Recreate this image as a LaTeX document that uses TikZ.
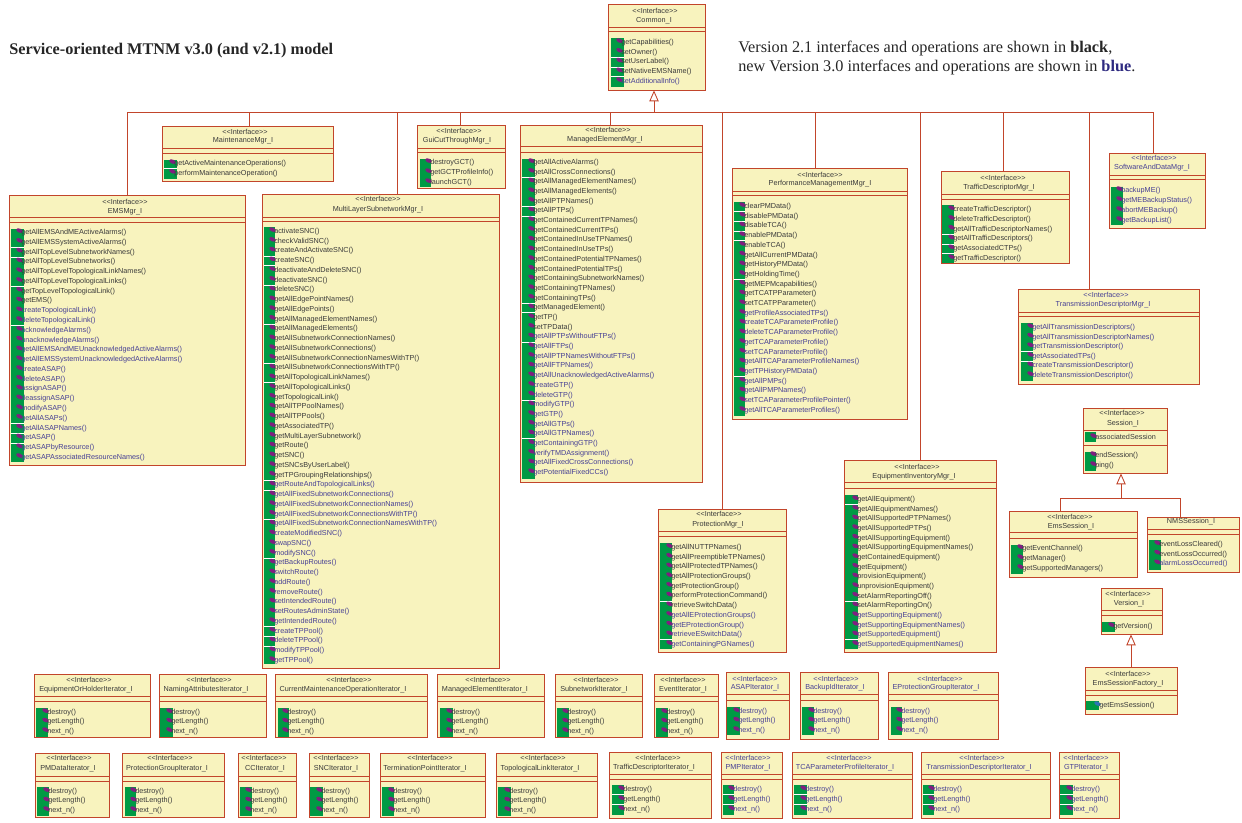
\documentclass[tikz,border=0pt]{standalone}
\usepackage{fontspec}
\setmainfont{Liberation Sans}
\newfontfamily\serifface{Liberation Serif}
\usetikzlibrary{arrows.meta}
\definecolor{linered}{HTML}{C2452B}
\definecolor{boxfill}{HTML}{F8F3BE}
\definecolor{stripgreen}{HTML}{009A44}
\definecolor{iconmag}{HTML}{7F1F7F}
\definecolor{iconblue}{HTML}{2F74B5}
\definecolor{tk}{HTML}{3A3A3A}
\definecolor{tb}{HTML}{463F95}
\definecolor{titleblue}{HTML}{2E2A80}
\tikzset{
  umlbox/.style={draw=linered,fill=boxfill,line width=0.72pt,inner sep=0pt,outer sep=0pt},
  divider/.style={draw=linered,line width=0.6pt},
  conn/.style={draw=linered,line width=0.65pt},
  gen/.style={conn,-{Triangle[open,fill=white,length=8.2pt,width=7pt]}},
  optext/.style={anchor=west,inner sep=0pt,font=\fontsize{5.45pt}{6pt}\selectfont,text height=4pt,text depth=1.2pt},
  headtext/.style={anchor=center,inner sep=0pt,font=\fontsize{5.45pt}{6pt}\selectfont,text height=4pt,text depth=1.2pt},
  titletext/.style={anchor=base west,inner sep=0pt,text=black!85}
}
\newcounter{opn}
\newcommand{\iface}[7]{%
  \node[umlbox,minimum width={(#4-#2)*0.75pt},minimum height={(#5-#3)*0.75pt}] (#1) at ({(#2+#4)/2+0.4},{(#3+#5)/2+0.4}) {};
  \draw[divider] (#2,#6) -- (#4,#6);
  \draw[divider] (#2,#7) -- (#4,#7);
}
\newcommand{\stereo}[3]{\stepcounter{opn}\node[headtext,text=#3] (h\arabic{opn}) at (#1,#2) {<{}<Interface>{}>};}
\newcommand{\ifn}[4]{\stepcounter{opn}\node[headtext,text=#3] (h\arabic{opn}) at (#1,#2) {#4};}
% gx1 gx2 tx gtop gbot y0 step
\newcommand{\strip}[7]{%
  \fill[stripgreen] (#1,#4) rectangle (#2,#5);
  \xdef\gxa{#1}\xdef\gxb{#2}\xdef\optx{#3}\pgfmathsetmacro\tmpy{#6+0.6}\xdef\cury{\tmpy}\xdef\opstep{#7}%
}
\newcommand{\advop}{\pgfmathsetmacro\tmpy{\cury+\opstep}\xdef\cury{\tmpy}}
\newcommand{\icon}[1]{\fill[#1,shift={({\optx-1.5},{\cury-2})},rotate=-25] (0,0) ellipse [x radius=3.5,y radius=2];}
\newcommand{\opline}[2]{\stepcounter{opn}\icon{iconmag}\node[optext,text=#1] (op\arabic{opn}) at (\optx,\cury) {#2};\advop}
\newcommand{\oK}[1]{\opline{tk}{#1()}}
\newcommand{\oB}[1]{\opline{tb}{#1()}}
\newcommand{\gp}{\draw[white,line width=0.5pt] (\gxa,{\cury-\opstep/2}) -- (\gxb,{\cury-\opstep/2});}
% iterator rows
\newcommand{\itrow}[9]{\gdef\ra{#1}\gdef\rb{#2}\gdef\rc{#3}\gdef\rd{#4}\gdef\re{#5}\gdef\rf{#6}\gdef\rg{#7}\gdef\rh{#8}\gdef\ri{#9}}
\newcommand{\iter}[9]{% id name x1 x2 sx nx gx1 gx2 tx
  \iface{#1}{#3}{\ra}{#4}{\rb}{\rc}{\rd}
  \stereo{#5}{\re}{\ic}\ifn{#6}{\rf}{\ic}{#2}
  \strip{#7}{#8}{#9}{\rg}{\rh}{\ri}{\istep}
  \opline{\ic}{destroy()}\igap\opline{\ic}{getLength()}\igap\opline{\ic}{next\_n()}
}
\begin{document}
\begin{tikzpicture}[x=0.75pt,y=-0.75pt]
\useasboundingbox (0,0) rectangle (1242,822);
% titles
\node[titletext,font=\serifface\bfseries\fontsize{12.2pt}{14pt}\selectfont] (title) at (9,54) {Service-oriented MTNM v3.0 (and v2.1) model};
\node[titletext,font=\serifface\fontsize{12.2pt}{14pt}\selectfont] (note1) at (738,52) {Version 2.1 interfaces and operations are shown in \textbf{black},};
\node[titletext,font=\serifface\fontsize{12.2pt}{14pt}\selectfont] (note2) at (738,71) {new Version 3.0 interfaces and operations are shown in \textcolor{titleblue}{\textbf{blue}}.};
% Common
\iface{common}{608}{4}{705}{90}{27}{31}
\stereo{655}{12}{tk}\ifn{654}{21}{tk}{Common\_I}
\strip{611}{624}{621}{38}{87}{42}{9.75}
\oK{getCapabilities}\oK{setOwner}\gp\oK{setUserLabel}\gp\oK{setNativeEMSName}\gp\oB{setAdditionalInfo}
% Maintenance
\iface{maint}{162}{126}{333}{181}{148}{153}
\stereo{245}{133}{tk}\ifn{243}{141}{tk}{MaintenanceMgr\_I}
\strip{164}{177}{174}{160}{179}{163}{9.75}
\oK{getActiveMaintenanceOperations}\gp\oK{performMaintenanceOperation}
% EMS
\iface{ems}{9}{195}{245}{465}{217}{222}
\stereo{125}{203}{tk}\ifn{125}{212}{tk}{EMSMgr\_I}
\strip{11}{24}{21}{229}{462}{232}{9.78}
\oK{getAllEMSAndMEActiveAlarms}\oK{getAllEMSSystemActiveAlarms}\gp\oK{getAllTopLevelSubnetworkNames}\gp\oK{getAllTopLevelSubnetworks}\oK{getAllTopLevelTopologicalLinkNames}\oK{getAllTopLevelTopologicalLinks}\gp\oK{getTopLevelTopologicalLink}\oK{getEMS}
\oB{createTopologicalLink}\oB{deleteTopologicalLink}\gp\oB{acknowledgeAlarms}\oB{unacknowledgeAlarms}\oB{getAllEMSAndMEUnacknowledgedActiveAlarms}\oB{getAllEMSSystemUnacknowledgedActiveAlarms}\oB{createASAP}\oB{deleteASAP}\oB{assignASAP}\oB{deassignASAP}\oB{modifyASAP}\oB{getAllASAPs}\gp\oB{getAllASAPNames}\gp\oB{getASAP}\gp\oB{getASAPbyResource}\oB{getASAPAssociatedResourceNames}
% MultiLayer
\iface{mls}{262}{194}{499}{668}{217}{221}
\stereo{378}{200}{tk}\ifn{378}{210}{tk}{MultiLayerSubnetworkMgr\_I}
\strip{264}{275}{274}{227}{664}{231}{9.75}
\oK{activateSNC}\oK{checkValidSNC}\oK{createAndActivateSNC}\gp\oK{createSNC}\gp\oK{deactivateAndDeleteSNC}\oK{deactivateSNC}\gp\oK{deleteSNC}\oK{getAllEdgePointNames}\oK{getAllEdgePoints}\oK{getAllManagedElementNames}\gp\oK{getAllManagedElements}\oK{getAllSubnetworkConnectionNames}\oK{getAllSubnetworkConnections}\oK{getAllSubnetworkConnectionNamesWithTP}\gp\oK{getAllSubnetworkConnectionsWithTP}\oK{getAllTopologicalLinkNames}\gp\oK{getAllTopologicalLinks}\oK{getTopologicalLink}\oK{getAllTPPoolNames}\oK{getAllTPPools}\oK{getAssociatedTP}\oK{getMultiLayerSubnetwork}\oK{getRoute}\oK{getSNC}\oK{getSNCsByUserLabel}\oK{getTPGroupingRelationships}\gp
\oB{getRouteAndTopologicalLinks}\gp\oB{getAllFixedSubnetworkConnections}\oB{getAllFixedSubnetworkConnectionNames}\oB{getAllFixedSubnetworkConnectionsWithTP}\gp\oB{getAllFixedSubnetworkConnectionNamesWithTP}\oB{createModifiedSNC}\oB{swapSNC}\oB{modifySNC}\gp\oB{getBackupRoutes}\oB{switchRoute}\oB{addRoute}\oB{removeRoute}\oB{setIntendedRoute}\oB{setRoutesAdminState}\oB{getIntendedRoute}\gp\oB{createTPPool}\gp\oB{deleteTPPool}\gp\oB{modifyTPPool}\oB{getTPPool}
% GuiCut
\iface{gui}{417}{125}{505}{188}{148}{152}
\stereo{459}{132}{tk}\ifn{457}{141}{tk}{GuiCutThroughMgr\_I}
\strip{420}{431}{430}{159}{187}{162}{10}
\oK{destroyGCT}\oK{getGCTProfileInfo}\oK{launchGCT}
% ManagedElement
\iface{me}{520}{125}{702}{482}{146}{152}
\stereo{608}{131}{tk}\ifn{605}{140}{tk}{ManagedElementMgr\_I}
\strip{522}{535}{533}{159}{479}{162}{9.69}
\oK{getAllActiveAlarms}\oK{getAllCrossConnections}\gp\oK{getAllManagedElementNames}\oK{getAllManagedElements}\oK{getAllPTPNames}\gp\oK{getAllPTPs}\gp\oK{getContainedCurrentTPNames}\oK{getContainedCurrentTPs}\oK{getContainedInUseTPNames}\oK{getContainedInUseTPs}\oK{getContainedPotentialTPNames}\oK{getContainedPotentialTPs}\oK{getContainingSubnetworkNames}\oK{getContainingTPNames}\oK{getContainingTPs}\gp\oK{getManagedElement}\gp\oK{getTP}\oK{setTPData}
\oB{getAllPTPsWithoutFTPs}\gp\oB{getAllFTPs}\oB{getAllPTPNamesWithoutFTPs}\oB{getAllFTPNames}\oB{getAllUnacknowledgedActiveAlarms}\oB{createGTP}\oB{deleteGTP}\gp\oB{modifyGTP}\oB{getGTP}\oB{getAllGTPs}\oB{getAllGTPNames}\gp\oB{getContainingGTP}\oB{verifyTMDAssignment}\oB{getAllFixedCrossConnections}\oB{getPotentialFixedCCs}
% Performance
\iface{perf}{732}{168}{907}{419}{191}{195}
\stereo{820}{176}{tk}\ifn{820}{184}{tk}{PerformanceManagementMgr\_I}
\strip{734}{745}{744}{202}{416}{206}{9.71}
\oK{clearPMData}\gp\oK{disablePMData}\gp\oK{disableTCA}\gp\oK{enablePMData}\gp\oK{enableTCA}\oK{getAllCurrentPMData}\oK{getHistoryPMData}\oK{getHoldingTime}\gp\oK{getMEPMcapabilities}\oK{getTCATPParameter}\oK{setTCATPParameter}
\oB{getProfileAssociatedTPs}\oB{createTCAParameterProfile}\oB{deleteTCAParameterProfile}\oB{getTCAParameterProfile}\oB{setTCAParameterProfile}\oB{getAllTCAParameterProfileNames}\oB{getTPHistoryPMData}\gp\oB{getAllPMPs}\oB{getAllPMPNames}\oB{setTCAParameterProfilePointer}\oB{getAllTCAParameterProfiles}
% Traffic
\iface{traffic}{941}{171}{1069}{263}{194}{199}
\stereo{1003}{179}{tk}\ifn{999}{188}{tk}{TrafficDescriptorMgr\_I}
\strip{942}{954}{953}{205}{263}{209}{9.8}
\oK{createTrafficDescriptor}\oK{deleteTrafficDescriptor}\oK{getAllTrafficDescriptorNames}\gp\oK{getAllTrafficDescriptors}\gp\oK{getAssociatedCTPs}\gp\oK{getTrafficDescriptor}
% Software
\iface{soft}{1109}{153}{1205}{228}{175}{179}
\stereo{1154}{159}{tb}\ifn{1152}{168}{tb}{SoftwareAndDataMgr\_I}
\strip{1111}{1123}{1121}{187}{225}{190}{10}
\oB{backupME}\oB{getMEBackupStatus}\oB{abortMEBackup}\oB{getBackupList}
% Transmission
\iface{trans}{1018}{289}{1199}{384}{312}{316}
\stereo{1106}{296}{tb}\ifn{1103}{305}{tb}{TransmissionDescriptorMgr\_I}
\strip{1021}{1033}{1032}{323}{381}{327}{9.6}
\oB{getAllTransmissionDescriptors}\oB{getAllTransmissionDescriptorNames}\oB{getTransmissionDescriptor}\gp\oB{getAssociatedTPs}\gp\oB{createTransmissionDescriptor}\oB{deleteTransmissionDescriptor}
% Session
\iface{session}{1083}{408}{1167}{473}{430}{445}
\stereo{1122}{414}{tk}\ifn{1123}{424}{tk}{Session\_I}
\strip{1085}{1096}{1095}{432}{442}{437}{10}
\opline{tk}{associatedSession}
\strip{1085}{1096}{1095}{452}{471}{455}{10}
\oK{endSession}\oK{ping}
% EmsSession
\iface{emss}{1009}{511}{1137}{577}{532}{538}
\stereo{1070}{518}{tk}\ifn{1071}{527}{tk}{EmsSession\_I}
\strip{1011}{1023}{1022}{545}{574}{548}{10}
\oK{getEventChannel}\oK{getManager}\oK{getSupportedManagers}
% NMSSession
\iface{nmss}{1147}{517}{1239}{572}{529}{534}
\ifn{1191}{522}{tk}{NMSSession\_I}
\strip{1149}{1161}{1159}{540}{570}{544}{9.6}
\oK{eventLossCleared}\oK{eventLossOccurred}\oB{alarmLossOccurred}
% Version
\iface{version}{1101}{588}{1162}{634}{610}{615}
\stereo{1128}{595}{tk}\ifn{1129}{604}{tk}{Version\_I}
\strip{1102}{1115}{1113}{622}{632}{626}{10}
\oK{getVersion}
% Factory
\iface{factory}{1085}{667}{1177}{714}{690}{695}
\stereo{1128}{675}{tk}\ifn{1128}{684}{tk}{EmsSessionFactory\_I}
\strip{1086}{1099}{1099}{701}{710}{705}{10}
\stepcounter{opn}\icon{iconblue}\node[optext,text=tk] (op\arabic{opn}) at (\optx,\cury) {getEmsSession()};
% Protection
\iface{prot}{658}{509}{786}{652}{531}{536}
\stereo{719}{515}{tk}\ifn{718}{525}{tk}{ProtectionMgr\_I}
\strip{660}{672}{671}{543}{649}{547}{9.7}
\oK{getAllNUTTPNames}\oK{getAllPreemptibleTPNames}\oK{getAllProtectedTPNames}\oK{getAllProtectionGroups}\oK{getProtectionGroup}\oK{performProtectionCommand}\gp\oK{retrieveSwitchData}\oB{getAllEProtectionGroups}\oB{getEProtectionGroup}\oB{retrieveESwitchData}\gp\oB{getContainingPGNames}
% Equipment
\iface{equip}{844}{460}{996}{652}{482}{488}
\stereo{917}{468}{tk}\ifn{914}{477}{tk}{EquipmentInventoryMgr\_I}
\strip{845}{858}{857}{495}{649}{499}{9.67}
\oK{getAllEquipment}\gp\oK{getAllEquipmentNames}\oK{getAllSupportedPTPNames}\oK{getAllSupportedPTPs}\oK{getAllSupportingEquipment}\oK{getAllSupportingEquipmentNames}\oK{getContainedEquipment}\oK{getEquipment}\oK{provisionEquipment}\oK{unprovisionEquipment}\oK{setAlarmReportingOff}\gp\oK{setAlarmReportingOn}\oB{getSupportingEquipment}\oB{getSupportingEquipmentNames}\oB{getSupportedEquipment}\gp\oB{getSupportedEquipmentNames}
% Iterators, row 1
\def\ic{tk}\def\igap{}\def\istep{9.5}
\itrow{674}{737}{696}{701}{681}{690}{708}{737}{712}
\iter{itA}{EquipmentOrHolderIterator\_I}{34}{150}{89}{86}{36}{48}{47}
\iter{itB}{NamingAttributesIterator\_I}{159}{266}{209}{206}{160}{173}{171}
\iter{itC}{CurrentMaintenanceOperationIterator\_I}{275}{427}{349}{343}{278}{289}{287}
\iter{itD}{ManagedElementIterator\_I}{437}{544}{488}{485}{440}{453}{451}
\iter{itE}{SubnetworkIterator\_I}{555}{642}{596}{594}{557}{569}{567}
\iter{itF}{EventIterator\_I}{654}{718}{683}{683}{656}{668}{666}
\itrow{672}{739}{694}{700}{680}{688}{707}{735}{711}
\def\ic{tb}
\iter{itG}{ASAPIterator\_I}{726}{789}{755}{755}{727}{740}{738}
\iter{itH}{BackupIdIterator\_I}{800}{878}{836}{835}{802}{814}{813}
\iter{itI}{EProtectionGroupIterator\_I}{888}{998}{940}{936}{891}{902}{901}
% Iterators, row 2
\def\ic{tk}
\itrow{753}{817}{776}{781}{759}{769}{787}{816}{791}
\iter{itJ}{PMDataIterator\_I}{35}{109}{69}{68}{37}{49}{48}
\iter{itK}{ProtectionGroupIterator\_I}{122}{224}{170}{167}{125}{136}{135}
\iter{itL}{CCIterator\_I}{238}{296}{264}{265}{240}{252}{250}
\iter{itM}{SNCIterator\_I}{309}{369}{336}{336}{310}{323}{321}
\iter{itN}{TerminationPointIterator\_I}{380}{485}{430}{425}{382}{394}{393}
\iter{itO}{TopologicalLinkIterator\_I}{496}{597}{543}{540}{498}{511}{509}
\itrow{752}{818}{774}{779}{759}{768}{785}{815}{789}
\def\igap{\gp}\def\istep{10}
\iter{itP}{TrafficDescriptorIterator\_I}{609}{711}{658}{654}{612}{624}{623}
\def\ic{tb}
\iter{itQ}{PMPIterator\_I}{721}{782}{748}{748}{723}{734}{733}
\iter{itR}{TCAParameterProfileIterator\_I}{792}{912}{849}{845}{794}{807}{805}
\iter{itS}{TransmissionDescriptorIterator\_I}{921}{1050}{982}{979}{923}{934}{933}
\iter{itT}{GTPIterator\_I}{1059}{1119}{1086}{1086}{1060}{1073}{1071}
% inheritance tree
\coordinate (busL) at (127,112);
\coordinate (busR) at (1153,112);
\coordinate (busC) at (654,112);
\draw[conn] (busL) -- (busR);
\draw[gen] (busC) -- (busC |- common.south);
\draw[conn] (busL) -- (busL |- ems.north);
\draw[conn] (249,112) -- (249,0 |- maint.north);
\draw[conn] (397,112) -- (397,0 |- mls.north);
\draw[conn] (460,112) -- (460,0 |- gui.north);
\draw[conn] (610,112) -- (610,0 |- me.north);
\draw[conn] (722,112) -- (722,0 |- prot.north);
\draw[conn] (815,112) -- (815,0 |- perf.north);
\draw[conn] (920,112) -- (920,0 |- equip.north);
\draw[conn] (1003,112) -- (1003,0 |- traffic.north);
\draw[conn] (1089,112) -- (1089,0 |- trans.north);
\draw[conn] (busR) -- (busR |- soft.north);
% session tree
\coordinate (sesC) at (1121,498);
\draw[gen] (sesC) -- (sesC |- session.south);
\draw[conn] (1060,0 |- emss.north) |- (sesC) -| (1180,0 |- nmss.north);
% version
\coordinate (verC) at (1131,640);
\draw[gen] (verC |- factory.north) -- (verC |- version.south);
\end{tikzpicture}
\end{document}
